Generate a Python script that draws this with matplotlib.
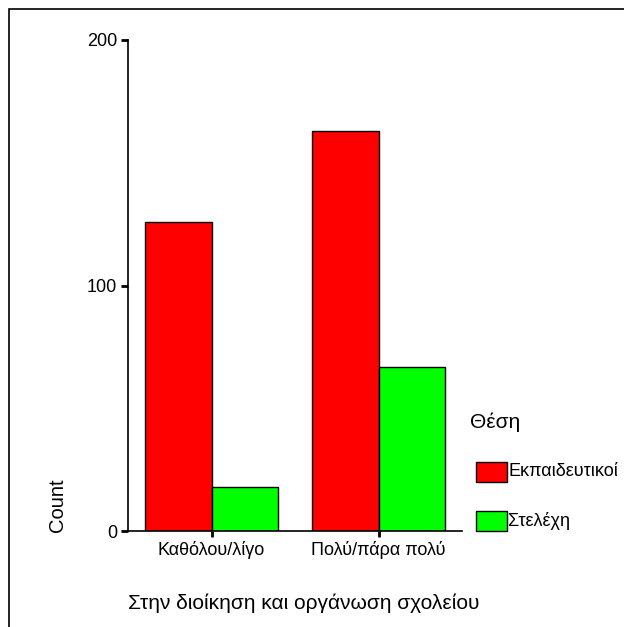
import numpy as np
import matplotlib.pyplot as plt
from matplotlib.patches import Rectangle

categories = ['Καθόλου/λίγο', 'Πολύ/πάρα πολύ']
series_names = ['Εκπαιδευτικοί', 'Στελέχη']
teachers = [126, 163]
executives = [18, 67]
yticks = [0, 100, 200]

plt.rcParams['font.family'] = ['Liberation Sans', 'DejaVu Sans']

fig = plt.figure(figsize=(6.24, 6.27), dpi=100)
ax = fig.add_axes([128/624, 1 - 531/627, (462 - 128)/624, (531 - 40)/627])

# outer frame (right and bottom edges run off the picture)
fig.patches.append(Rectangle((9/624, -0.05), 1.1, 1.05 - 9/627, transform=fig.transFigure,
                             fill=False, edgecolor='black', linewidth=1.2))

x = np.arange(len(categories))
w = 0.4
ax.bar(x - w/2, teachers, w, color='#ff0000', edgecolor='black', linewidth=1)
ax.bar(x + w/2, executives, w, color='#00ff00', edgecolor='black', linewidth=1)

ax.set_xlim(-0.5, 1.5)
ax.set_ylim(0, 200)
ax.set_yticks(yticks)
ax.set_xticks(x)
ax.set_xticklabels(categories, fontsize=13)
ax.tick_params(axis='y', labelsize=13, length=5, width=2, pad=3)
ax.tick_params(axis='x', length=4, width=2, pad=3)
for s in ['top', 'right']:
    ax.spines[s].set_visible(False)
for s in ['left', 'bottom']:
    ax.spines[s].set_linewidth(1.2)

fig.text(57/624, 1 - 505/627, 'Count', rotation=90, ha='center', va='center', fontsize=14.5)
fig.text(304/624, 1 - 603/627, 'Στην διοίκηση και οργάνωση σχολείου', ha='center', va='center', fontsize=15)

# legend drawn by hand to match SPSS layout
fig.text(470/624, 1 - 422/627, 'Θέση', ha='left', va='center', fontsize=15)
for i, (name, col) in enumerate(zip(series_names, ['#ff0000', '#00ff00'])):
    yc = 472 + i * 49
    fig.patches.append(Rectangle((476/624, 1 - (yc + 10)/627), 31/624, 20/627,
                                 transform=fig.transFigure, facecolor=col,
                                 edgecolor='black', linewidth=1))
    fig.text(508/624, 1 - yc/627, name, ha='left', va='center', fontsize=13)

fig.savefig('out.png')
